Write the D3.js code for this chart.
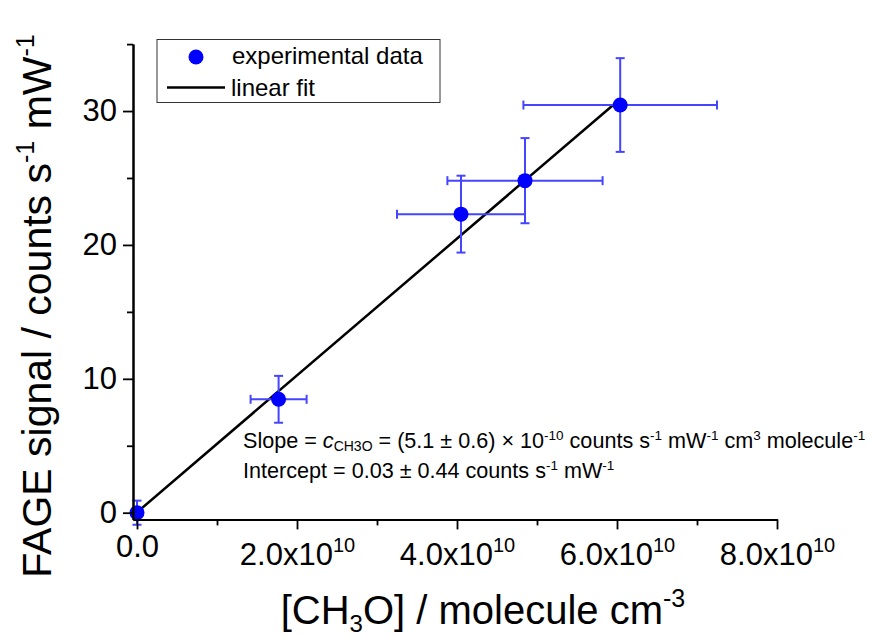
<!DOCTYPE html>
<html>
<head>
<meta charset="utf-8">
<script src="https://cdn.jsdelivr.net/npm/d3@7/dist/d3.min.js"></script>
<style>
  html, body { margin: 0; padding: 0; background: #fff; }
  svg { display: block; font-family: "Liberation Sans", Arial, sans-serif; }
</style>
</head>
<body>
<svg id="chart" width="877" height="639"></svg>
<script>
// ---- data ----
const xVals = [0, 1.77e10, 4.05e10, 4.85e10, 6.04e10];
const yVals = [0, 8.47, 22.3, 24.8, 30.45];
const xErr  = [0, 0.35e10, 0.80e10, 0.97e10, 1.21e10];
const yErr  = [0.9, 1.75, 2.87, 3.18, 3.5];
const fitX  = [0, 6.04e10];
const fitY  = [0.03, 30.9];
const xMajorTicks = [0, 2e10, 4e10, 6e10, 8e10];
const xMinorTicks = [1e10, 3e10, 5e10, 7e10];
const xTickBase   = ["0.0", "2.0x10", "4.0x10", "6.0x10", "8.0x10"];
const xTickExp    = ["", "10", "10", "10", "10"];
const yMajorTicks = [0, 10, 20, 30];
const yMinorTicks = [5, 15, 25, 35];
const legendLabels = ["experimental data", "linear fit"];

const svg = d3.select("#chart");
const x = d3.scaleLinear().domain([-0.05e10, 8e10]).range([133, 777]);
const y = d3.scaleLinear().domain([-0.5, 35]).range([519.4, 44.1]);

const pointColor = "#0000ff";
const errColor = "#4545ff";

// ---- fit line ----
svg.append("line")
  .attr("x1", x(fitX[0])).attr("y1", y(fitY[0]))
  .attr("x2", x(fitX[1])).attr("y2", y(fitY[1]))
  .attr("stroke", "#000").attr("stroke-width", 2.5);

// ---- error bars ----
const data = xVals.map((v, i) => ({x: v, y: yVals[i], ex: xErr[i], ey: yErr[i]}));
const eb = svg.append("g").attr("stroke", errColor).attr("stroke-width", 2).attr("fill", "none");
data.forEach(d => {
  const cx = x(d.x), cy = y(d.y);
  if (d.ey > 0) {
    const t = y(d.y + d.ey), b = y(d.y - d.ey);
    eb.append("line").attr("x1", cx).attr("x2", cx).attr("y1", t).attr("y2", b);
    eb.append("line").attr("x1", cx - 4.5).attr("x2", cx + 4.5).attr("y1", t).attr("y2", t);
    eb.append("line").attr("x1", cx - 4.5).attr("x2", cx + 4.5).attr("y1", b).attr("y2", b);
  }
  if (d.ex > 0) {
    const l = x(d.x - d.ex), r = x(d.x + d.ex);
    eb.append("line").attr("x1", l).attr("x2", r).attr("y1", cy).attr("y2", cy);
    eb.append("line").attr("x1", l).attr("x2", l).attr("y1", cy - 4.5).attr("y2", cy + 4.5);
    eb.append("line").attr("x1", r).attr("x2", r).attr("y1", cy - 4.5).attr("y2", cy + 4.5);
  }
});

// ---- points ----
svg.append("g").selectAll("circle").data(data).join("circle")
  .attr("cx", d => x(d.x)).attr("cy", d => y(d.y)).attr("r", 7.5)
  .attr("fill", pointColor);

// ---- axes ----
const xAxisY = y(-0.5), yAxisX = x(-0.05e10);
const gxMinor = svg.append("g").attr("transform", `translate(0,${xAxisY})`)
  .call(d3.axisBottom(x).tickValues(xMinorTicks).tickSize(6).tickSizeOuter(0).tickFormat(() => ""));
const gx = svg.append("g").attr("transform", `translate(0,${xAxisY})`)
  .call(d3.axisBottom(x).tickValues(xMajorTicks).tickSize(10).tickSizeOuter(0).tickFormat(() => ""));
const gyMinor = svg.append("g").attr("transform", `translate(${yAxisX},0)`)
  .call(d3.axisLeft(y).tickValues(yMinorTicks).tickSize(6).tickSizeOuter(0).tickFormat(() => ""));
const gy = svg.append("g").attr("transform", `translate(${yAxisX},0)`)
  .call(d3.axisLeft(y).tickValues(yMajorTicks).tickSize(10).tickSizeOuter(0).tickFormat(d => d));

[gxMinor, gx, gyMinor, gy].forEach(g => {
  g.selectAll("path.domain").attr("stroke", "#000").attr("stroke-width", 2);
  g.selectAll(".tick line").attr("stroke", "#000").attr("stroke-width", 1.8);
});
gy.selectAll(".tick text").attr("font-size", 31).attr("fill", "#000")
  .attr("font-family", "Liberation Sans, Arial, sans-serif").attr("x", -16).attr("dy", "0.32em");

// x tick labels with superscripts
gx.selectAll(".tick").each(function(d, i) {
  const g = d3.select(this);
  g.selectAll("text").remove();
  const hasExp = xTickExp[i] !== "";
  const t = g.append("text").attr("text-anchor", "middle").attr("fill", "#000")
    .attr("font-size", 31).attr("y", hasExp ? 46 : 38);
  t.append("tspan").text(xTickBase[i]);
  if (hasExp) t.append("tspan").attr("font-size", 20).attr("dy", -13).text(xTickExp[i]);
});

// ---- axis titles ----
const xt = svg.append("text").attr("x", 483).attr("y", 624).attr("text-anchor", "middle")
  .attr("font-size", 40).attr("fill", "#000");
xt.append("tspan").text("[CH");
xt.append("tspan").attr("font-size", 24).attr("dy", 8).text("3");
xt.append("tspan").attr("dy", -8).text("O] / molecule cm");
xt.append("tspan").attr("font-size", 25).attr("dy", -17).text("-3");

const yt = svg.append("text").attr("transform", "translate(51,306) rotate(-90)")
  .attr("text-anchor", "middle").attr("font-size", 41).attr("fill", "#000");
yt.append("tspan").text("FAGE signal / counts s");
yt.append("tspan").attr("font-size", 25).attr("dy", -17).text("-1");
yt.append("tspan").attr("dy", 17).text(" mW");
yt.append("tspan").attr("font-size", 25).attr("dy", -17).text("-1");

// ---- annotations ----
const s = svg.append("text").attr("x", 243).attr("y", 448).attr("font-size", 21.6).attr("fill", "#000");
s.append("tspan").text("Slope = ");
s.append("tspan").attr("font-style", "italic").text("c");
s.append("tspan").attr("font-size", 14).attr("dy", 3).text("CH3O");
s.append("tspan").attr("dy", -3).text(" = (5.1 \u00b1 0.6) \u00d7 10");
s.append("tspan").attr("font-size", 13.5).attr("dy", -8).text("-10");
s.append("tspan").attr("dy", 8).text(" counts s");
s.append("tspan").attr("font-size", 13.5).attr("dy", -8).text("-1");
s.append("tspan").attr("dy", 8).text(" mW");
s.append("tspan").attr("font-size", 13.5).attr("dy", -8).text("-1");
s.append("tspan").attr("dy", 8).text(" cm");
s.append("tspan").attr("font-size", 13.5).attr("dy", -8).text("3");
s.append("tspan").attr("dy", 8).text(" molecule");
s.append("tspan").attr("font-size", 13.5).attr("dy", -8).text("-1");

const it = svg.append("text").attr("x", 243).attr("y", 478).attr("font-size", 21.6).attr("fill", "#000");
it.append("tspan").text("Intercept = 0.03 \u00b1 0.44 counts s");
it.append("tspan").attr("font-size", 13.5).attr("dy", -8).text("-1");
it.append("tspan").attr("dy", 8).text(" mW");
it.append("tspan").attr("font-size", 13.5).attr("dy", -8).text("-1");

// ---- legend ----
const lg = svg.append("g");
lg.append("rect").attr("x", 157).attr("y", 39.5).attr("width", 283).attr("height", 63)
  .attr("fill", "#fff").attr("stroke", "#333").attr("stroke-width", 1);
lg.append("circle").attr("cx", 196).attr("cy", 57).attr("r", 7.5).attr("fill", pointColor);
lg.append("line").attr("x1", 167).attr("x2", 225).attr("y1", 87.5).attr("y2", 87.5)
  .attr("stroke", "#000").attr("stroke-width", 2.5);
lg.append("text").attr("x", 232).attr("y", 64).attr("font-size", 24).attr("fill", "#000").text(legendLabels[0]);
lg.append("text").attr("x", 231).attr("y", 96).attr("font-size", 24).attr("fill", "#000").text(legendLabels[1]);
</script>
</body>
</html>
